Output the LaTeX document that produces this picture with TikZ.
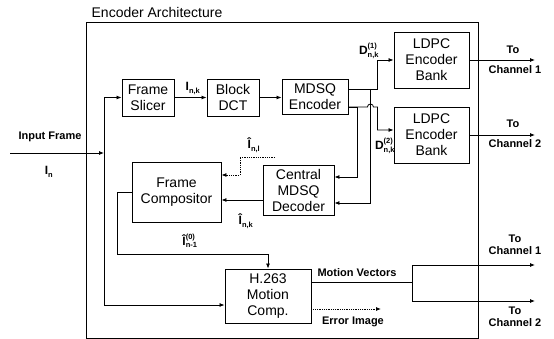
\documentclass[tikz,border=0pt]{standalone}
\usepackage{fontspec}
\setmainfont{Liberation Sans}
\usetikzlibrary{arrows.meta}

% signal label: base, superscript, subscript stacked
\newcommand{\scr}[1]{\mbox{\fontsize{7.5}{8}\selectfont\bfseries #1}}
\newcommand{\sig}[3]{\mbox{#1}$^{\scr{#2}}_{\scr{#3}}$}

\begin{document}
\begin{tikzpicture}[
    x=1pt, y=-1pt,
    box/.style={
        rectangle,
        draw=black,
        line width=0.9pt,
        font=\fontsize{14}{16}\selectfont,
        align=center,
        inner sep=1pt
    },
    frame/.style={
        rectangle,
        draw=black,
        line width=0.9pt,
        minimum width=392pt,
        minimum height=316pt,
        inner sep=0pt
    },
    lbl/.style={font=\bfseries\fontsize{11}{12}\selectfont, align=center, inner sep=1pt},
    sigl/.style={font=\bfseries\fontsize{12}{13}\selectfont, inner sep=0pt},
    line/.style={line width=0.8pt},
    arrow/.style={-{Latex[length=5pt,width=4pt]}, line width=0.8pt},
    dotarrow/.style={-{Latex[length=5pt,width=4pt]}, line width=0.8pt, densely dotted},
]
\useasboundingbox (0,0) rectangle (554,339);

% Encoder frame
\node[frame] (enc) at (282,180) {};
\node[font=\fontsize{14}{16}\selectfont, inner sep=0pt] (title) at (157,12) {Encoder Architecture};

% Blocks
\node[box, minimum width=52pt, minimum height=37pt] (slicer) at (148,97.5) {Frame\\Slicer};
\node[box, minimum width=52pt, minimum height=37pt] (dct) at (233,97.5) {Block\\DCT};
\node[box, minimum width=66pt, minimum height=35pt] (mdsq) at (315,96.5) {MDSQ\\Encoder};
\node[box, minimum width=75pt, minimum height=56pt] (ldpcA) at (431.5,60) {LDPC\\Encoder\\Bank};
\node[box, minimum width=75pt, minimum height=56pt] (ldpcB) at (431.5,135) {LDPC\\Encoder\\Bank};
\node[box, minimum width=71pt, minimum height=50pt] (dec) at (298.5,190) {Central\\MDSQ\\Decoder};
\node[box, minimum width=89pt, minimum height=60pt] (comp) at (176.5,192) {Frame\\Compositor};
\node[box, minimum width=86pt, minimum height=54pt] (mc) at (268,296) {H.263\\Motion\\Comp.};

% Free ends
\coordinate (inp) at (10,153);
\coordinate (split) at (104,153);
\coordinate (outA) at (535,60);
\coordinate (outB) at (535,135);
\coordinate (nl) at (275,157);
\coordinate (mvs) at (412,282);
\coordinate (mvA) at (535,265);
\coordinate (mvB) at (535,301);
\coordinate (err) at (381,309);

% Input
\draw[arrow] (inp) -- (split);
\draw[line] (split |- slicer) -- (split |- 0,305);
\draw[arrow] (split |- slicer) -- (slicer);
\draw[arrow] (split |- 0,305) -- ([yshift=-9pt]mc.west);

% Forward chain
\draw[arrow] (slicer) -- (dct);
\draw[arrow] (dct.east) -- (dct.east -| mdsq.west);

% MDSQ outputs
\draw[arrow] ([yshift=7.5pt]mdsq.east) -- ++(29,0) |- (ldpcA.west);
\draw[arrow] ([yshift=7.5pt]mdsq.east) ++(22,0) |- ([yshift=-13pt]dec.east);
\draw[arrow] ([yshift=-10.5pt]mdsq.east) -- ++(9,0) |- ([yshift=13pt]dec.east);
\draw[arrow] ([yshift=-10.5pt]mdsq.east) -- ++(19,0) arc[start angle=180, end angle=0, radius=3pt] -- ++(4,0) |- ([yshift=5pt]ldpcB.west);

% Channel outputs
\draw[arrow] (ldpcA) -- (outA);
\draw[arrow] (ldpcB) -- (outB);

% Decoder feedback
\draw[dotarrow] (nl) -- ++(-35,0) |- ([yshift=17pt]comp.east);
\draw[arrow] ([yshift=-10pt]dec.west) -- ([yshift=-10pt]dec.west -| comp.east);
\draw[arrow] (comp.west) -- ++(-14,0) |- ([yshift=14pt]mc.north) -- (mc.north);

% Motion compensation outputs
\draw[line] ([yshift=14pt]mc.east) -- (mvs);
\draw[line] (mvs |- mvA) -- (mvs |- mvB);
\draw[arrow] (mvs |- mvA) -- (mvA);
\draw[arrow] (mvs |- mvB) -- (mvB);
\draw[dotarrow] ([yshift=-13pt]mc.east) -- (err);

% Labels
\node[lbl] (inLbl) at (50,137) {Input Frame};
\node[sigl] (inSig) at (49,172) {\sig{I}{}{n}};
\node[sigl] (sliceSig) at (193,88) {\sig{I}{}{n,k}};
\node[sigl] (dA) at (369,51) {\sig{D}{(1)}{n,k}};
\node[sigl] (dB) at (385,146) {\sig{D}{(2)}{n,k}};
\node[sigl] (hatL) at (254,145) {\sig{\^I}{}{n,l}};
\node[sigl] (hatK) at (246,221) {\sig{\^I}{}{n,k}};
\node[sigl] (prev) at (190,241) {\sig{\^I}{(0)}{n-1}};
\node[lbl] (mvLbl) at (357,273) {Motion Vectors};
\node[lbl] (errLbl) at (353,322) {Error Image};
\node[lbl] (toA) at (513,50) {To};
\node[lbl] (chA) at (515,70) {Channel 1};
\node[lbl] (toB) at (513,124) {To};
\node[lbl] (chB) at (515,144) {Channel 2};
\node[lbl] (toC) at (515,245) {To\\Channel 1};
\node[lbl] (toD) at (515,317) {To\\Channel 2};

\end{tikzpicture}
\end{document}
